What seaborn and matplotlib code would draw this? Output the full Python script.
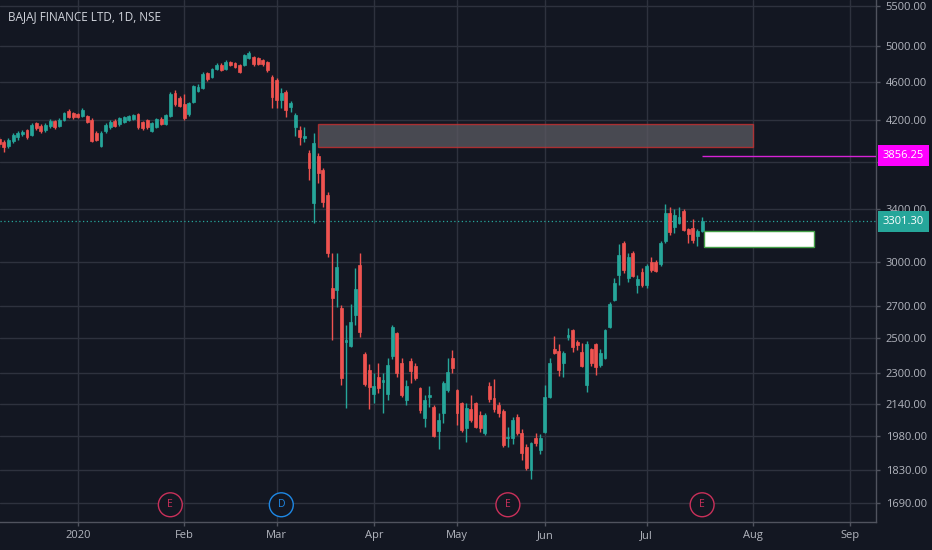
import numpy as np
import pandas as pd
import matplotlib
matplotlib.use("Agg")
import matplotlib.pyplot as plt
import matplotlib.ticker as mtick
from matplotlib.patches import Rectangle
import seaborn as sns

# --- data --------------------------------------------------------------------
symbol_title = "BAJAJ FINANCE LTD, 1D, NSE"

# NSE sessions: weekdays minus exchange holidays, plus the Budget-day Saturday
nse_holidays = ["2019-12-25", "2020-02-21", "2020-03-10", "2020-04-02", "2020-04-06",
                "2020-04-10", "2020-04-14", "2020-05-01", "2020-05-25"]
special_sessions = ["2020-02-01"]
first_session = "2019-12-06"
axis_end = "2020-09-30"

opens = [4015, 3986, 3948, 3996, 4034, 4063, 4101, 4053, 4170, 4140,
         4101, 4140, 4189, 4140, 4199, 4290, 4270, 4260, 4239, 4239,
         4199, 4072, 3948, 4091, 4130, 4189, 4160, 4179, 4199, 4209,
         4260, 4179, 4199, 4091, 4130, 4209, 4160, 4239, 4477, 4424,
         4362, 4260, 4382, 4498, 4530, 4695, 4650, 4739, 4785, 4739,
         4819, 4808, 4785, 4785, 4865, 4877, 4865, 4842, 4819, 4650,
         4617, 4403, 4488, 4331, 4130, 4101, 4024, 3883, 3449, 3855,
         3729, 3515, 2818, 2805, 2688, 2479, 2456, 2643, 2976, 2410,
         2320, 2191, 2282, 2254, 2191, 2399, 2533, 2359, 2160, 2370,
         2342, 2223, 2070, 2176, 2125, 2007, 2095, 2212, 2387, 2212,
         2145, 2022, 2115, 2145, 2085, 1998, 2233, 2170, 2135, 2105,
         1974, 1974, 2075, 1998, 1933, 1830, 1974, 1919, 2003, 2176,
         2439, 2427, 2359, 2509, 2551, 2479, 2422, 2239, 2439, 2468,
         2348, 2387, 2569, 2739, 2907, 3136, 2886, 3062, 2839, 2927,
         2839, 2998, 2998, 2983, 3151, 3368, 3257, 3289, 3384, 3242,
         3250, 3189, 3226]
highs = [4034, 4005, 4024, 4072, 4091, 4101, 4111, 4170, 4179, 4160,
         4170, 4209, 4199, 4219, 4280, 4310, 4280, 4270, 4321, 4250,
         4219, 4091, 4091, 4170, 4199, 4209, 4229, 4239, 4250, 4260,
         4270, 4189, 4209, 4179, 4219, 4229, 4260, 4488, 4509, 4445,
         4467, 4382, 4563, 4574, 4706, 4706, 4751, 4808, 4808, 4842,
         4831, 4819, 4796, 4912, 4946, 4889, 4877, 4854, 4831, 4672,
         4639, 4530, 4509, 4393, 4270, 4140, 4130, 3910, 4072, 3883,
         3747, 3540, 3062, 3062, 2707, 2581, 2713, 2955, 3062, 2422,
         2354, 2304, 2359, 2304, 2387, 2581, 2540, 2387, 2265, 2387,
         2359, 2228, 2186, 2233, 2135, 2095, 2260, 2387, 2433, 2217,
         2150, 2145, 2186, 2150, 2105, 2095, 2254, 2270, 2150, 2115,
         2026, 2075, 2090, 2017, 1947, 1956, 1998, 1993, 2239, 2387,
         2515, 2468, 2427, 2563, 2557, 2491, 2474, 2485, 2444, 2474,
         2439, 2557, 2726, 2886, 3128, 3151, 3062, 3077, 2907, 2955,
         2983, 3034, 3012, 3151, 3441, 3416, 3400, 3416, 3400, 3250,
         3320, 3242, 3336]
lows = [3939, 3892, 3929, 3977, 4005, 4043, 4015, 4043, 4101, 4072,
        4082, 4121, 4111, 4130, 4189, 4219, 4209, 4219, 4229, 4170,
        3986, 3996, 3939, 4072, 4111, 4130, 4140, 4170, 4189, 4199,
        4111, 4101, 4111, 4082, 4121, 4150, 4150, 4229, 4341, 4331,
        4199, 4239, 4372, 4488, 4520, 4606, 4639, 4728, 4717, 4728,
        4774, 4751, 4695, 4774, 4854, 4774, 4785, 4774, 4706, 4321,
        4321, 4321, 4229, 4280, 4043, 3958, 3986, 3642, 3289, 3617,
        3416, 3034, 2491, 2694, 2239, 2120, 2450, 2581, 2509, 2233,
        2115, 2145, 2196, 2095, 2160, 2382, 2282, 2176, 2135, 2249,
        2265, 2095, 2026, 2125, 1979, 1924, 2046, 2202, 2304, 2036,
        2003, 1956, 2050, 2022, 2003, 1988, 2150, 2100, 2075, 1933,
        1933, 1947, 1988, 1874, 1830, 1791, 1937, 1901, 1998, 2170,
        2410, 2287, 2282, 2491, 2422, 2433, 2337, 2202, 2342, 2293,
        2337, 2382, 2563, 2733, 2839, 2920, 2859, 2893, 2785, 2825,
        2818, 2927, 2927, 2969, 3136, 3196, 3211, 3281, 3226, 3136,
        3136, 3114, 3219]
closes = [3967, 3939, 4005, 4053, 4072, 4082, 4034, 4150, 4121, 4091,
          4150, 4189, 4130, 4199, 4270, 4229, 4229, 4229, 4300, 4179,
          3996, 4005, 4072, 4150, 4179, 4140, 4219, 4229, 4239, 4250,
          4130, 4121, 4130, 4170, 4209, 4160, 4250, 4467, 4362, 4341,
          4219, 4372, 4552, 4541, 4684, 4628, 4739, 4785, 4728, 4819,
          4785, 4762, 4706, 4900, 4923, 4796, 4796, 4796, 4728, 4435,
          4403, 4477, 4300, 4372, 4250, 4034, 4043, 3747, 3977, 3703,
          3457, 3062, 2752, 2962, 2276, 2491, 2600, 2812, 2539, 2244,
          2228, 2233, 2223, 2265, 2348, 2569, 2304, 2186, 2233, 2315,
          2276, 2110, 2160, 2186, 1984, 2060, 2249, 2309, 2331, 2095,
          2012, 2120, 2060, 2026, 2022, 2085, 2165, 2115, 2095, 1942,
          1979, 2060, 1998, 1906, 1839, 1951, 1951, 1974, 2176, 2359,
          2416, 2320, 2416, 2521, 2450, 2462, 2342, 2468, 2359, 2337,
          2416, 2551, 2713, 2852, 3048, 2941, 3034, 2900, 2879, 2839,
          2969, 2941, 2934, 3136, 3368, 3219, 3352, 3336, 3234, 3204,
          3158, 3226, 3301.30]

price_ticks = [1690, 1830, 1980, 2140, 2300, 2500, 2700, 3000, 3400,
               3800, 4200, 4600, 5000, 5500]
covered_ticks = [3800]   # label sits under the alert tag on the price scale

# drawings on the chart
supply_zone = ("2020-03-16", "2020-08-03", 3939, 4160)    # start, end, low, high
target_box = ("2020-07-17", "2020-08-20", 3106, 3226)
alert_level = 3856.25
alert_start = "2020-07-17"
events = [("2020-01-29", "E"), ("2020-03-03", "D"), ("2020-05-19", "E"), ("2020-07-17", "E")]

# --- style ---------------------------------------------------------------------
BG = "#131722"
GRID = "#2e323e"
AXIS = "#50535e"
TEXT = "#b2b5be"
UP = "#26a69a"
DOWN = "#ef5350"
EVENT_COLORS = {"E": "#c9305a", "D": "#1e88e5"}

sns.set_theme(style="dark", rc={
    "axes.facecolor": BG,
    "figure.facecolor": BG,
    "axes.edgecolor": AXIS,
    "grid.color": GRID,
    "text.color": TEXT,
    "xtick.color": TEXT,
    "ytick.color": TEXT,
})
plt.rcParams["font.family"] = ["Open Sans", "DejaVu Sans"]

sessions = pd.bdate_range(first_session, axis_end, freq="C", holidays=nse_holidays)
sessions = sessions.union(pd.DatetimeIndex(special_sessions))
bar_of = {d: i for i, d in enumerate(sessions)}

df = pd.DataFrame({"open": opens, "high": highs, "low": lows, "close": closes})
df["date"] = sessions[:len(df)]
df["x"] = np.arange(len(df))
df["color"] = np.where(df["close"] >= df["open"], UP, DOWN)

fig = plt.figure(figsize=(9.32, 5.5), dpi=100)
ax = fig.add_axes([0, 28 / 550, 876 / 932, 522 / 550])

# candles
ax.vlines(df["x"], df["low"], df["high"], colors=df["color"], lw=1, zorder=3)
body_lo = np.minimum(df["open"], df["close"])
body_h = (df["open"] - df["close"]).abs()
ax.bar(df["x"], body_h, bottom=body_lo, width=0.62, color=df["color"],
       edgecolor=df["color"], linewidth=0.5, zorder=4)

# supply zone rectangle
z0, z1 = bar_of[pd.Timestamp(supply_zone[0])], bar_of[pd.Timestamp(supply_zone[1])]
ax.add_patch(Rectangle((z0, supply_zone[2]), z1 - z0, supply_zone[3] - supply_zone[2],
                       facecolor="#5b5a62", alpha=0.75, edgecolor="#d32f2f", lw=1, zorder=2))

# white target box
t0, t1 = bar_of[pd.Timestamp(target_box[0])], bar_of[pd.Timestamp(target_box[1])]
ax.add_patch(Rectangle((t0 + 0.3, target_box[2]), t1 - t0, target_box[3] - target_box[2],
                       facecolor="white", edgecolor="#43a047", lw=1, zorder=5))

# alert line and last price line
a0 = bar_of[pd.Timestamp(alert_start)]
ax.hlines(alert_level, a0, 195, color="#d623d6", lw=1, zorder=3)
last_close = closes[-1]
ax.axhline(last_close, color=UP, ls=(0, (1, 2)), lw=0.9, zorder=2)

# axes
ax.set_yscale("log")
ax.set_ylim(1616, 5583)
ax.set_xlim(0.17, 189.6)
ax.yaxis.set_major_locator(mtick.FixedLocator(price_ticks))
ax.yaxis.set_minor_locator(mtick.NullLocator())
ax.yaxis.set_major_formatter(
    mtick.FuncFormatter(lambda v, _: "" if round(v) in covered_ticks else f"{v:.2f}"))
ax.yaxis.tick_right()

month_first = pd.Series(np.arange(len(sessions)), index=sessions).groupby(
    sessions.to_period("M")).min().iloc[1:]
month_labels = ["2020" if p.month == 1 else p.strftime("%b") for p in month_first.index]
ax.set_xticks(month_first.values)
ax.set_xticklabels(month_labels)
ax.xaxis.set_minor_locator(mtick.NullLocator())

ax.tick_params(axis="y", which="major", length=3, width=1, pad=4, labelsize=8,
               color=AXIS, labelcolor=TEXT, right=True, left=False)
ax.tick_params(axis="x", which="major", length=3, width=1, pad=3, labelsize=8,
               color=AXIS, labelcolor=TEXT, bottom=True)
ax.grid(True, color=GRID, lw=1)
ax.set_axisbelow(True)
for side in ("top", "left"):
    ax.spines[side].set_visible(False)
for side in ("right", "bottom"):
    ax.spines[side].set_visible(True)
    ax.spines[side].set_color(AXIS)
    ax.spines[side].set_linewidth(1)


def price_tag(value, color):
    ax.annotate(f"{value:.2f}", xy=(1, value), xycoords=("axes fraction", "data"),
                xytext=(5, 0), textcoords="offset points", ha="left", va="center",
                color="white", fontsize=8, annotation_clip=False, zorder=10,
                bbox=dict(boxstyle="square,pad=0.45", fc=color, ec="none"))


price_tag(alert_level, "#ff00ff")
price_tag(last_close, UP)

# earnings / dividend markers
for day, letter in events:
    col = EVENT_COLORS[letter]
    ax.annotate(letter, xy=(bar_of[pd.Timestamp(day)], 0.033),
                xycoords=("data", "axes fraction"), ha="center", va="center",
                color=col, fontsize=7.5, zorder=6,
                bbox=dict(boxstyle="circle,pad=0.62", fc=BG, ec=col, lw=1))

fig.text(8 / 932, 1 - 17 / 550, symbol_title, color="#d1d4dc", fontsize=8.5,
         ha="left", va="center")

fig.savefig("out.png", dpi=100, facecolor=BG)
